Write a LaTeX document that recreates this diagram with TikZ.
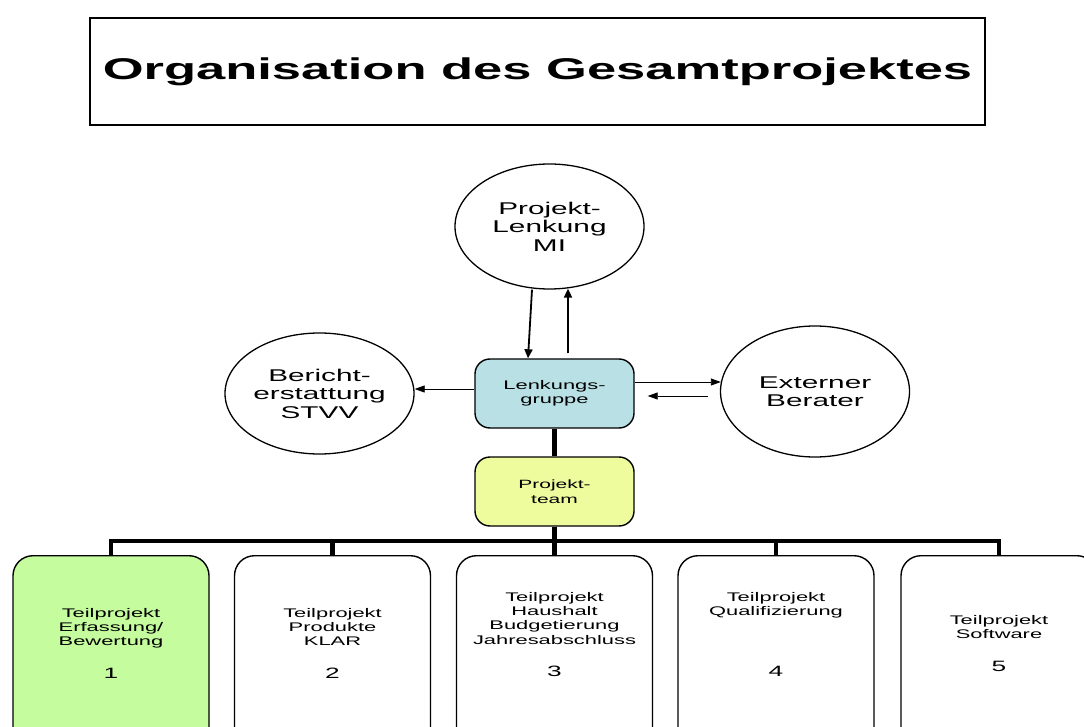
\documentclass[tikz,border=0pt]{standalone}
\usepackage{fontspec}
\setmainfont{Liberation Sans}[FakeStretch=1.75]
\usetikzlibrary{shapes.geometric,arrows.meta}
\definecolor{lgblue}{RGB}{185,224,228}
\definecolor{ptyellow}{RGB}{238,252,158}
\definecolor{tpgreen}{RGB}{196,252,158}

\begin{document}
\begin{tikzpicture}[x=1pt,y=-1pt,
    oval/.style={draw,ellipse,line width=1.3pt,minimum width=189pt,inner sep=0pt,align=center,font=\fontsize{17}{18.5}\selectfont},
    smallbox/.style={draw,rounded corners=15pt,line width=1.4pt,minimum width=159pt,minimum height=69pt,align=center},
    tpbox/.style={draw,rounded corners=20pt,line width=1.4pt,minimum width=196pt,minimum height=200pt,anchor=north},
    tptext/.style={anchor=north,inner sep=0pt,align=center,font=\fontsize{12.5}{14.3}\selectfont},
    tpnum/.style={anchor=base,inner sep=0pt,font=\fontsize{15}{15}\selectfont},
    bus/.style={line width=4.5pt},
    thinarr/.style={line width=0.8pt,-{Triangle[length=10pt,width=7pt]}},
    thickarr/.style={line width=1.8pt,-{Triangle[length=9pt,width=8pt]}}]
   \useasboundingbox (0,0) rectangle (1084,727);
   \clip (0,0) rectangle (1084,727);
   % title
   \node (title) at (537.5,71.5) [draw,line width=1.3pt,minimum width=895pt,minimum height=107pt,font=\bfseries\fontsize{30}{36}\selectfont] {Organisation des Gesamtprojektes};
   % circles
   \node (pl) at (549.5,226.5) [oval,minimum height=125pt] {Projekt-\\Lenkung\\MI};
   \node (be) at (319.5,393.5) [oval,minimum height=121pt] {Bericht-\\erstattung\\STVV};
   \node (ex) at (815,391.5) [oval,minimum height=131pt] {Externer\\Berater};
   % middle boxes
   \node (lg) at (554.5,393.5) [smallbox,fill=lgblue,font=\fontsize{12.5}{14.5}\selectfont] {Lenkungs-\\gruppe};
   \node (pt) at (554.5,491.5) [smallbox,fill=ptyellow,font=\fontsize{12}{15}\selectfont] {Projekt-\\team};
   % teilprojekte
   \node (tp1) at (111,555) [tpbox,fill=tpgreen] {};
   \node (tp2) at (332.5,555) [tpbox] {};
   \node (tp3) at (554.5,555) [tpbox] {};
   \node (tp4) at (776,555) [tpbox] {};
   \node (tp5) at (999,555) [tpbox] {};
   \node (t1) at (111,608) [tptext] {Teilprojekt\\Erfassung/\\Bewertung};
   \node (n1) at (111,678) [tpnum] {1};
   \node (t2) at (332.5,608) [tptext] {Teilprojekt\\Produkte\\KLAR};
   \node (n2) at (332.5,678) [tpnum] {2};
   \node (t3) at (554.5,592) [tptext] {Teilprojekt\\Haushalt\\Budgetierung\\Jahresabschluss};
   \node (n3) at (554.5,676) [tpnum] {3};
   \node (t4) at (776,592) [tptext] {Teilprojekt\\Qualifizierung};
   \node (n4) at (776,676) [tpnum] {4};
   \node (t5) at (999,615) [tptext] {Teilprojekt\\Software};
   \node (n5) at (999,671) [tpnum] {5};
   % tree lines
   \coordinate (bus) at (554.5,541);
   \draw[bus] (lg.south) -- (pt.north);
   \draw[bus] (pt.south) -- (pt.south |- bus);
   \draw[bus] (tp1.north) -- (tp1.north |- bus) -- (tp5.north |- bus) -- (tp5.north);
   \draw[bus] (tp2.north) -- (tp2.north |- bus);
   \draw[bus] (tp3.north) -- (tp3.north |- bus);
   \draw[bus] (tp4.north) -- (tp4.north |- bus);
   % arrows
   \draw[thickarr] ([xshift=-17.5pt]pl.south) -- ([xshift=-26.5pt]lg.north);
   \draw[thickarr] ([xshift=13.5pt,yshift=5pt]lg.north) -- ([xshift=18.5pt,yshift=1pt]pl.south);
   \draw[thinarr] ([yshift=4.5pt]lg.west) -- ([yshift=4.5pt]be.east);
   \draw[thinarr] ([yshift=11.5pt]lg.east) -- ([yshift=9.5pt,xshift=1pt]ex.west);
   \draw[thinarr] ([xshift=-12pt,yshift=-4.5pt]ex.west) -- ([xshift=13pt,yshift=-2.5pt]lg.east);
\end{tikzpicture}
\end{document}
